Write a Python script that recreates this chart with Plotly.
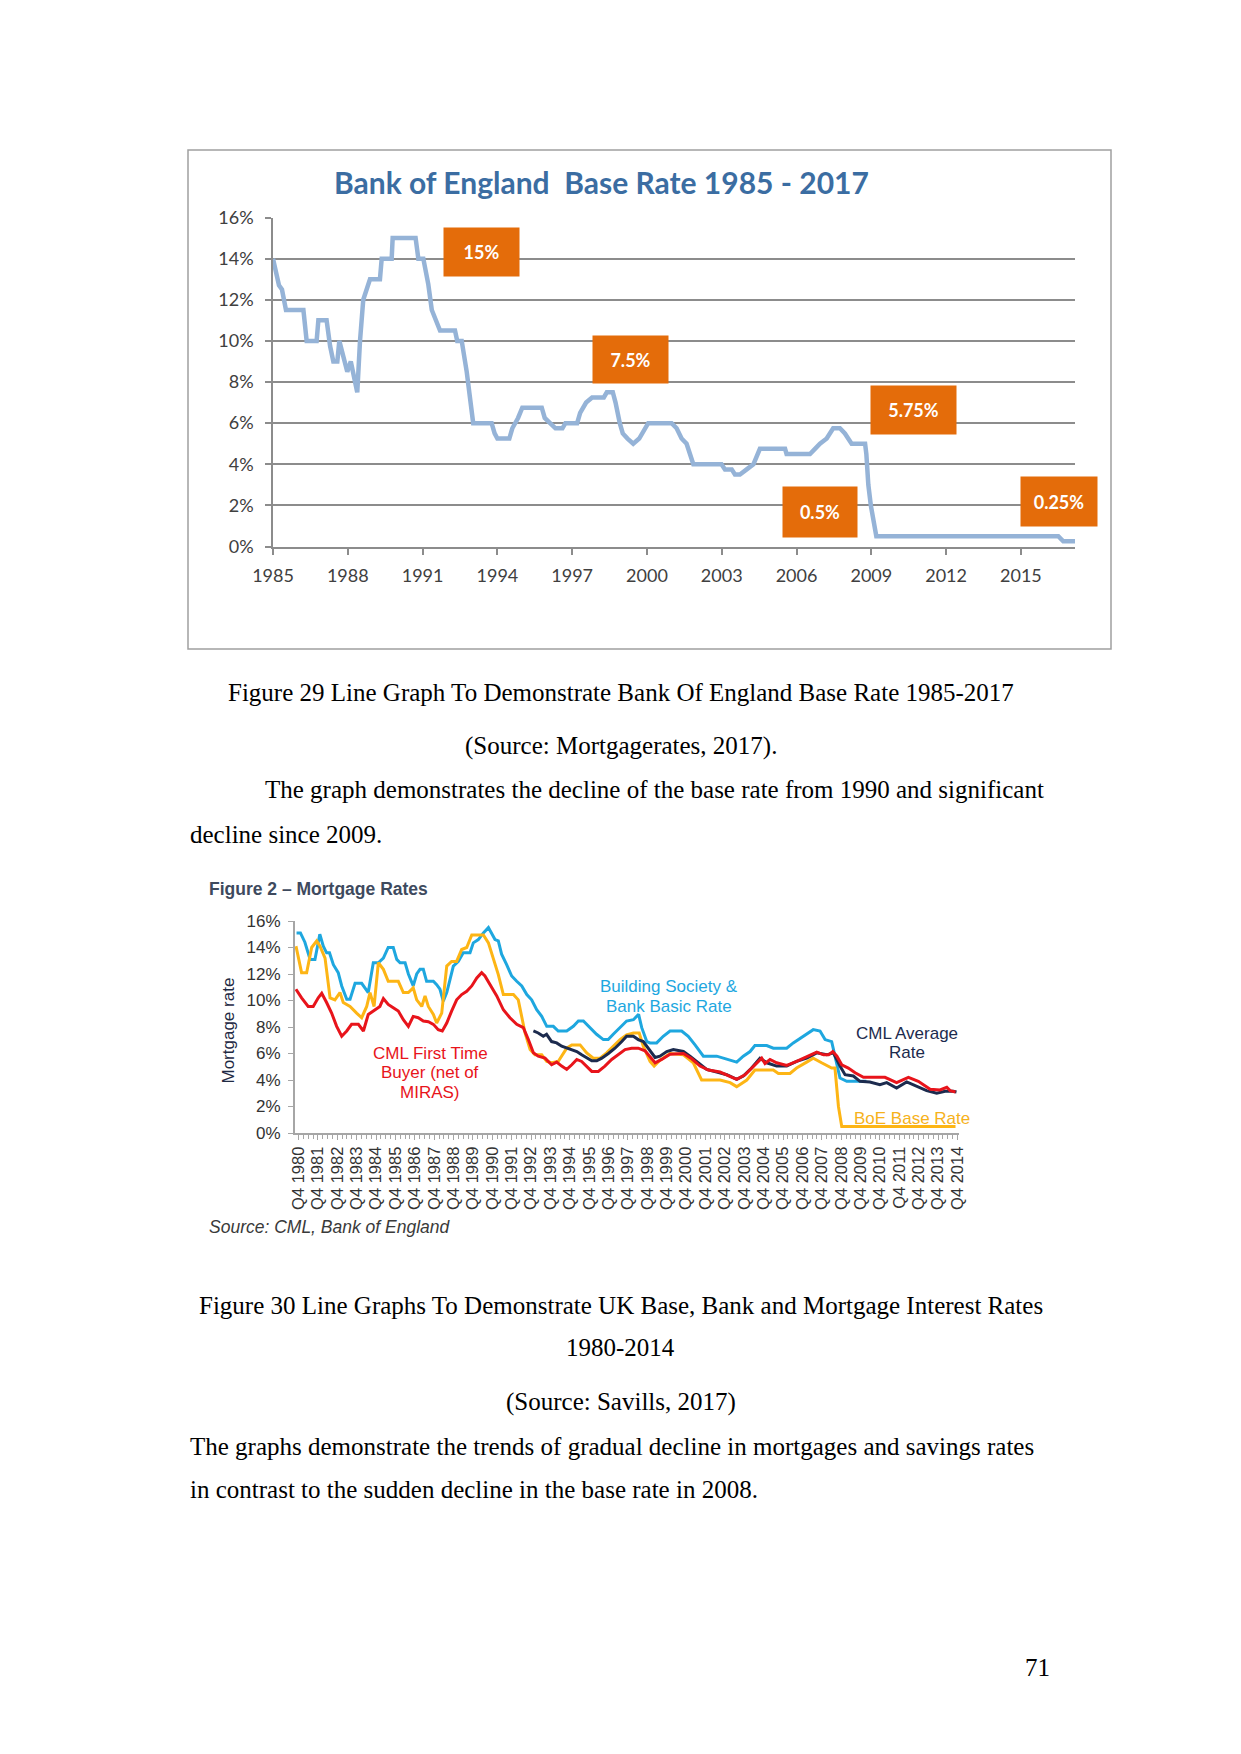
import plotly.graph_objects as go

W, H = 1241, 1754

# ---------------- Chart 1: Bank of England base rate 1985-2017 ----------------
boe_years = [1985.00, 1985.24, 1985.36, 1985.52, 1986.22, 1986.35, 1986.75, 1986.82, 1987.15,
             1987.29, 1987.42, 1987.58, 1987.66, 1987.89, 1987.98, 1988.12, 1988.22, 1988.38,
             1988.49, 1988.62, 1988.89, 1989.29, 1989.36, 1989.76, 1989.80, 1990.72, 1990.83,
             1991.03, 1991.23, 1991.37, 1991.70, 1992.30, 1992.39, 1992.57, 1992.77, 1992.90,
             1993.03, 1993.77, 1993.89, 1994.00, 1994.48, 1994.60, 1994.83, 1995.00, 1995.78,
             1995.90, 1996.14, 1996.33, 1996.61, 1996.73, 1997.20, 1997.32, 1997.56, 1997.80,
             1998.27, 1998.39, 1998.63, 1998.74, 1998.91, 1999.03, 1999.22, 1999.45, 1999.69,
             1999.93, 2000.05, 2000.99, 2001.19, 2001.39, 2001.59, 2001.86, 2002.99, 2003.13,
             2003.40, 2003.53, 2003.73, 2004.00, 2004.27, 2004.53, 2005.54, 2005.60, 2006.54,
             2006.74, 2006.94, 2007.21, 2007.47, 2007.74, 2007.94, 2008.21, 2008.75, 2008.80,
             2008.88, 2008.98, 2009.10, 2009.20, 2016.50, 2016.70, 2017.17]
boe_rates = [14.0, 12.7, 12.5, 11.5, 11.5, 10.0, 10.0, 11.0, 11.0,
             9.75, 9.0, 9.0, 10.0, 9.0, 8.5, 9.0, 8.5, 7.5,
             10.0, 12.0, 13.0, 13.0, 14.0, 14.0, 15.0, 15.0, 14.0,
             14.0, 12.75, 11.5, 10.5, 10.5, 10.0, 10.0, 8.5, 7.0,
             6.0, 6.0, 5.5, 5.25, 5.25, 5.75, 6.25, 6.75, 6.75,
             6.25, 6.0, 5.75, 5.75, 6.0, 6.0, 6.5, 7.0, 7.25,
             7.25, 7.5, 7.5, 7.0, 6.0, 5.5, 5.25, 5.0, 5.25,
             5.75, 6.0, 6.0, 5.75, 5.25, 5.0, 4.0, 4.0, 3.75,
             3.75, 3.5, 3.5, 3.75, 4.0, 4.75, 4.75, 4.5, 4.5,
             4.75, 5.0, 5.25, 5.75, 5.75, 5.5, 5.0, 5.0, 4.5,
             3.0, 2.0, 1.0, 0.5, 0.5, 0.25, 0.25]
boe_tick_years = [1985, 1988, 1991, 1994, 1997, 2000, 2003, 2006, 2009, 2012, 2015]
boe_callouts = ["15%", "7.5%", "5.75%", "0.5%", "0.25%"]
boe_title = "Bank of England  Base Rate 1985 - 2017"

# ---------------- Chart 2: Mortgage rates Q4 1980 - Q4 2014 ----------------
bs_years = [1979.90, 1980.10, 1980.33, 1980.60, 1980.85, 1981.10, 1981.28, 1981.45, 1981.60, 1981.80,
            1982.05, 1982.23, 1982.49, 1982.66, 1982.92, 1983.26, 1983.60, 1983.86, 1984.12, 1984.38,
            1984.63, 1984.89, 1985.07, 1985.24, 1985.50, 1985.67, 1985.92, 1986.10, 1986.27, 1986.44,
            1986.61, 1986.96, 1987.13, 1987.30, 1987.47, 1987.65, 1987.82, 1987.99, 1988.25, 1988.50,
            1988.85, 1989.02, 1989.28, 1989.54, 1989.80, 1989.97, 1990.14, 1990.31, 1990.48, 1990.74,
            1991.00, 1991.26, 1991.52, 1991.78, 1992.03, 1992.29, 1992.55, 1992.81, 1993.15, 1993.40,
            1993.84, 1994.18, 1994.44, 1994.70, 1995.04, 1995.38, 1995.73, 1995.98, 1996.24, 1996.59,
            1996.93, 1997.28, 1997.55, 1997.71, 1997.97, 1998.14, 1998.48, 1998.82, 1999.17, 1999.77,
            2000.11, 2000.46, 2000.89, 2001.58, 2002.10, 2002.61, 2002.95, 2003.30, 2003.55, 2004.16,
            2004.50, 2005.19, 2005.53, 2006.05, 2006.56, 2006.91, 2007.17, 2007.51, 2007.68, 2007.94,
            2008.29, 2008.80, 2009.30]
bs_rates = [15.1, 15.1, 14.4, 13.1, 13.1, 15.0, 14.1, 13.6, 13.6, 12.7,
            12.1, 11.1, 10.1, 10.1, 11.3, 11.3, 10.6, 12.85, 12.85, 13.2,
            14.0, 14.0, 13.1, 12.85, 12.85, 12.0, 11.1, 12.0, 12.35, 12.35,
            11.45, 11.45, 11.2, 10.85, 9.95, 10.6, 11.6, 12.6, 12.95, 13.6,
            13.6, 14.35, 14.6, 15.1, 15.5, 15.1, 14.6, 14.5, 13.5, 12.7,
            11.85, 11.45, 11.1, 10.45, 10.05, 9.3, 8.8, 8.05, 8.05, 7.7,
            7.7, 8.05, 8.45, 8.45, 7.95, 7.45, 7.05, 7.05, 7.45, 7.95,
            8.45, 8.55, 8.95, 7.95, 6.9, 6.8, 6.8, 7.3, 7.7, 7.7,
            7.3, 6.65, 5.8, 5.8, 5.6, 5.35, 5.8, 6.15, 6.6, 6.6,
            6.4, 6.4, 6.8, 7.3, 7.8, 7.7, 7.05, 6.9, 5.8, 4.15,
            3.9, 3.9, 3.9]

avg_years = [1992.12, 1992.37, 1992.63, 1992.80, 1993.06, 1993.32, 1993.58, 1993.84, 1994.10, 1994.36,
             1994.61, 1994.87, 1995.13, 1995.39, 1995.65, 1995.99, 1996.33, 1996.68, 1996.93, 1997.28,
             1997.53, 1997.79, 1998.05, 1998.40, 1998.65, 1999.00, 1999.34, 1999.86, 2000.20, 2000.63,
             2001.06, 2001.58, 2002.10, 2002.61, 2002.95, 2003.38, 2003.81, 2004.16, 2004.67, 2005.19,
             2005.70, 2006.22, 2006.74, 2007.26, 2007.60, 2007.94, 2008.20, 2008.63, 2008.97, 2009.48,
             2010.00, 2010.35, 2010.86, 2011.38, 2011.90, 2012.41, 2012.93, 2013.36, 2013.79, 2013.95]
avg_rates = [7.7, 7.55, 7.3, 7.45, 6.9, 6.8, 6.55, 6.4, 6.3, 6.15,
             5.9, 5.65, 5.45, 5.45, 5.65, 6.0, 6.4, 6.9, 7.3, 7.3,
             7.05, 6.9, 6.4, 5.7, 5.8, 6.15, 6.3, 6.15, 5.8, 5.3,
             4.8, 4.6, 4.4, 4.05, 4.3, 4.9, 5.65, 5.3, 5.05, 5.05,
             5.4, 5.65, 6.05, 5.9, 6.05, 5.05, 4.4, 4.3, 3.9, 3.85,
             3.65, 3.8, 3.4, 3.85, 3.5, 3.2, 3.0, 3.15, 3.15, 3.1]

ftb_years = [1979.87, 1980.16, 1980.50, 1980.76, 1981.02, 1981.20, 1981.45, 1981.71, 1981.97, 1982.23,
             1982.49, 1982.74, 1983.09, 1983.35, 1983.60, 1983.95, 1984.20, 1984.38, 1984.63, 1984.89,
             1985.15, 1985.41, 1985.67, 1985.92, 1986.18, 1986.44, 1986.70, 1986.96, 1987.21, 1987.42,
             1987.65, 1987.90, 1988.16, 1988.42, 1988.68, 1988.94, 1989.20, 1989.45, 1989.62, 1989.88,
             1990.23, 1990.57, 1990.91, 1991.26, 1991.60, 1991.86, 1992.12, 1992.37, 1992.72, 1993.06,
             1993.32, 1993.58, 1993.84, 1994.10, 1994.36, 1994.61, 1994.87, 1995.13, 1995.47, 1995.81,
             1996.16, 1996.50, 1996.85, 1997.19, 1997.53, 1997.88, 1998.14, 1998.40, 1998.74, 1999.17,
             1999.86, 2000.29, 2000.72, 2001.15, 2001.75, 2002.18, 2002.61, 2003.04, 2003.47, 2003.90,
             2004.07, 2004.33, 2004.67, 2005.19, 2005.70, 2006.22, 2006.74, 2007.09, 2007.35, 2007.57,
             2007.78, 2008.03, 2008.37, 2008.72, 2009.15, 2009.67, 2010.26, 2010.86, 2011.47, 2011.98,
             2012.59, 2013.10, 2013.45, 2013.62, 2013.90]
ftb_rates = [10.85, 10.2, 9.55, 9.55, 10.2, 10.55, 9.85, 9.05, 8.05, 7.3,
             7.7, 8.2, 8.2, 7.7, 8.95, 9.3, 9.55, 10.15, 9.7, 9.45,
             9.2, 8.55, 8.05, 8.8, 8.7, 8.45, 8.4, 8.2, 7.8, 7.7,
             8.3, 9.2, 10.05, 10.45, 10.7, 11.1, 11.7, 12.1, 11.85, 11.2,
             10.35, 9.3, 8.7, 8.2, 7.95, 7.05, 6.05, 5.8, 5.65, 5.15,
             5.35, 5.05, 4.8, 5.15, 5.55, 5.4, 5.05, 4.65, 4.65, 5.05,
             5.55, 5.9, 6.3, 6.4, 6.4, 6.2, 5.75, 5.3, 5.55, 5.95,
             6.0, 5.6, 5.05, 4.75, 4.6, 4.35, 4.05, 4.4, 5.05, 5.65,
             5.25, 5.55, 5.3, 5.1, 5.4, 5.75, 6.1, 5.9, 5.9, 6.15,
             5.8, 5.15, 4.9, 4.55, 4.2, 4.2, 4.2, 3.8, 4.2, 3.9,
             3.3, 3.25, 3.45, 3.2, 3.1]

base_years = [1979.87, 1980.16, 1980.42, 1980.68, 1980.94, 1981.11, 1981.37, 1981.63, 1981.88, 1982.14,
              1982.31, 1982.66, 1983.00, 1983.26, 1983.52, 1983.69, 1983.90, 1984.12, 1984.38, 1984.63,
              1985.15, 1985.41, 1985.67, 1985.92, 1986.10, 1986.36, 1986.53, 1986.70, 1986.96, 1987.13,
              1987.39, 1987.65, 1987.90, 1988.16, 1988.42, 1988.68, 1988.94, 1989.54, 1989.80, 1990.05,
              1990.31, 1990.57, 1991.09, 1991.34, 1991.69, 1991.95, 1992.20, 1992.55, 1992.81, 1993.06,
              1993.40, 1993.84, 1994.10, 1994.53, 1994.87, 1995.21, 1995.56, 1995.90, 1996.24, 1996.59,
              1996.93, 1997.28, 1997.58, 1997.79, 1998.14, 1998.35, 1998.65, 1999.17, 1999.86, 2000.37,
              2000.80, 2001.75, 2002.27, 2002.61, 2003.13, 2003.55, 2004.50, 2004.76, 2005.36, 2005.70,
              2006.22, 2006.56, 2006.99, 2007.51, 2007.68, 2007.86, 2008.03, 2013.90]
base_rates = [14.1, 12.1, 12.1, 14.0, 14.5, 14.1, 13.2, 10.2, 10.05, 10.6,
              9.85, 9.55, 9.05, 8.7, 9.55, 10.6, 9.55, 12.85, 12.35, 11.45,
              11.45, 10.6, 10.6, 10.95, 10.05, 9.55, 10.35, 9.55, 8.95, 8.3,
              9.05, 12.6, 12.95, 12.95, 13.85, 14.0, 14.95, 14.95, 14.35, 13.2,
              11.95, 10.45, 10.45, 10.05, 7.55, 6.3, 5.9, 5.9, 5.4, 5.3,
              5.4, 6.4, 6.65, 6.65, 6.05, 5.65, 5.65, 6.05, 6.55, 7.05,
              7.4, 7.55, 7.55, 6.55, 5.4, 5.05, 5.5, 6.0, 5.9, 5.3,
              4.0, 4.0, 3.8, 3.5, 4.0, 4.75, 4.75, 4.5, 4.5, 4.9,
              5.35, 5.65, 5.3, 4.9, 4.9, 2.0, 0.5, 0.5]

mort_tick_years = [1980, 1981, 1982, 1983, 1984, 1985, 1986, 1987, 1988, 1989, 1990, 1991,
                   1992, 1993, 1994, 1995, 1996, 1997, 1998, 1999, 2000, 2001, 2002, 2003,
                   2004, 2005, 2006, 2007, 2008, 2009, 2010, 2011, 2012, 2013, 2014]
mort_tick_labels = ["Q4 1980", "Q4 1981", "Q4 1982", "Q4 1983", "Q4 1984", "Q4 1985", "Q4 1986",
                    "Q4 1987", "Q4 1988", "Q4 1989", "Q4 1990", "Q4 1991", "Q4 1992", "Q4 1993",
                    "Q4 1994", "Q4 1995", "Q4 1996", "Q4 1997", "Q4 1998", "Q4 1999", "Q4 2000",
                    "Q4 2001", "Q4 2002", "Q4 2003", "Q4 2004", "Q4 2005", "Q4 2006", "Q4 2007",
                    "Q4 2008", "Q4 2009", "Q4 2010", "Q4 2011", "Q4 2012", "Q4 2013", "Q4 2014"]
bs_label = ["Building Society &", "Bank Basic Rate"]
avg_label = ["CML Average", "Rate"]
ftb_label = ["CML First Time", "Buyer (net of", "MIRAS)"]
base_label = ["BoE Base Rate"]

# ---------------- page text ----------------
caption29 = "Figure 29 Line Graph To Demonstrate Bank Of England Base Rate 1985-2017"
source29 = "(Source: Mortgagerates, 2017)."
para1 = ["The graph demonstrates the decline of the base rate from 1990 and significant",
         "decline since 2009."]
caption30 = ["Figure 30 Line Graphs To Demonstrate UK Base, Bank and Mortgage Interest Rates",
             "1980-2014"]
source30 = "(Source: Savills, 2017)"
para2 = ["The graphs demonstrate the trends of gradual decline in mortgages and savings rates",
         "in contrast to the sudden decline in the base rate in 2008."]
page_number = "71"


def px(x):
    return x / W


def py(y):
    return 1 - y / H


C_BS = "#1EA7DF"
C_BASE = "#FDB515"
C_AVG = "#1C2B4E"
C_FTB = "#E8141B"
ORANGE = "#E46C0A"
GRID = "#8C8C8C"

fig = go.Figure()

fig.add_trace(go.Scatter(x=boe_years, y=boe_rates, mode="lines", xaxis="x", yaxis="y",
                         line=dict(color="#95B3D7", width=4.5), showlegend=False))

fig.add_trace(go.Scatter(x=bs_years, y=bs_rates, mode="lines", xaxis="x2", yaxis="y2",
                         line=dict(color=C_BS, width=3), showlegend=False))
fig.add_trace(go.Scatter(x=base_years, y=base_rates, mode="lines", xaxis="x2", yaxis="y2",
                         line=dict(color=C_BASE, width=3), showlegend=False))
fig.add_trace(go.Scatter(x=avg_years, y=avg_rates, mode="lines", xaxis="x2", yaxis="y2",
                         line=dict(color=C_AVG, width=3), showlegend=False))
fig.add_trace(go.Scatter(x=ftb_years, y=ftb_rates, mode="lines", xaxis="x2", yaxis="y2",
                         line=dict(color=C_FTB, width=3), showlegend=False))

f1 = dict(family="Lato, 'Open Sans', sans-serif", size=18, color="#404040")
f2 = dict(family="'Liberation Sans', Arial, sans-serif", size=17, color="#333333")

fig.update_layout(
    width=W, height=H, margin=dict(l=0, r=0, t=0, b=0, pad=0, autoexpand=False),
    paper_bgcolor="white", plot_bgcolor="rgba(0,0,0,0)",
    xaxis=dict(domain=[px(273), px(1075)], range=[1985, 2017.17], tickvals=boe_tick_years,
               showgrid=False, zeroline=False, showline=True, linecolor=GRID, linewidth=1.5,
               ticks="outside", ticklen=7, tickcolor=GRID, tickwidth=1.5, tickfont=f1,
               ticklabelstandoff=5, automargin=False, fixedrange=True),
    yaxis=dict(domain=[py(546.5), py(217.5)], range=[0, 16], dtick=2, ticksuffix="%",
               showgrid=True, gridcolor=GRID, gridwidth=1.5, zeroline=False,
               showline=True, linecolor=GRID, linewidth=1.5, ticks="outside", ticklen=6,
               tickcolor=GRID, tickwidth=1.5, tickfont=f1, ticklabelstandoff=8,
               automargin=False, fixedrange=True),
    xaxis2=dict(domain=[px(295), px(959)], range=[1979.82, 2014.08], anchor="y2",
                tickvals=mort_tick_years, ticktext=mort_tick_labels, tickangle=-90,
                showgrid=False, zeroline=False, showline=True, linecolor="#A6A6A6", linewidth=2,
                ticks="outside", ticklen=5, tickcolor="#A6A6A6", tickwidth=1,
                minor=dict(ticks="outside", ticklen=4, dtick=0.25, tick0=1980, tickcolor="#A6A6A6"),
                tickfont=dict(family="'Liberation Sans', Arial, sans-serif", size=16.5, color="#333333"),
                automargin=False, fixedrange=True),
    yaxis2=dict(domain=[py(1133), py(921)], range=[0, 16], dtick=2, ticksuffix="%", anchor="x2",
                showgrid=False, zeroline=False, showline=True, linecolor="#A6A6A6", linewidth=2,
                ticks="outside", ticklen=5, tickcolor="#A6A6A6", tickfont=f2,
                ticklabelstandoff=4, automargin=False, fixedrange=True),
)

shapes = [dict(type="rect", xref="paper", yref="paper", x0=px(188), x1=px(1111), y0=py(649), y1=py(150),
               line=dict(color="#A0A0A0", width=1.5), fillcolor="rgba(0,0,0,0)", layer="below")]
fig.update_layout(shapes=shapes)

ann = []
# Chart 1 title
ann.append(dict(text="<b>" + boe_title + "</b>", x=px(601), y=py(182), xref="paper", yref="paper",
                showarrow=False, xanchor="center", yanchor="middle",
                font=dict(family="Lato, 'Open Sans', sans-serif", size=30, color="#3B6DA2")))
# Chart 1 orange call-out boxes
box_geo = [(481, 252, 75, 48), (630.5, 359.5, 75, 47), (913.5, 410, 85, 48), (820, 512, 74, 50), (1059, 501.5, 76, 49)]
for label, (cx, cy, bw, bh) in zip(boe_callouts, box_geo):
    ann.append(dict(text="<b>" + label + "</b>", x=px(cx), y=py(cy), xref="paper", yref="paper",
                    showarrow=False, xanchor="center", yanchor="middle", width=bw, height=bh,
                    bgcolor=ORANGE, borderpad=0, valign="middle",
                    font=dict(family="Lato, 'Open Sans', sans-serif", size=18, color="white")))

# Chart 2 text
ann.append(dict(text="<b>Figure 2 \u2013 Mortgage Rates</b>", x=px(207), y=py(889), xref="paper", yref="paper",
                showarrow=False, xanchor="left", yanchor="middle",
                font=dict(family="'Liberation Sans', Arial, sans-serif", size=17.5, color="#3E4A5E")))
ann.append(dict(text="Mortgage rate", x=px(227.5), y=py(1031), xref="paper", yref="paper",
                showarrow=False, xanchor="center", yanchor="middle", textangle=-90,
                font=dict(family="'Liberation Sans', Arial, sans-serif", size=17, color="#1F2A44")))
ann.append(dict(text="<i>Source: CML, Bank of England</i>", x=px(207), y=py(1227), xref="paper", yref="paper",
                showarrow=False, xanchor="left", yanchor="middle",
                font=dict(family="'Liberation Sans', Arial, sans-serif", size=17.5, color="#3A3A3A")))


def label_lines(lines, cx, y0, color, step=20):
    for i, t in enumerate(lines):
        ann.append(dict(text=t, x=px(cx), y=py(y0 + i * step), xref="paper", yref="paper",
                        showarrow=False, xanchor="center", yanchor="middle",
                        font=dict(family="'Liberation Sans', Arial, sans-serif", size=17, color=color)))


label_lines(bs_label, 669, 987, C_BS)
label_lines(avg_label, 907, 1033, C_AVG, 19)
label_lines(ftb_label, 430, 1053, C_FTB, 19.5)
label_lines(base_label, 912, 1118, "#F6B21B")

# page text
serif = dict(family="'Liberation Serif', 'Times New Roman', serif", size=25, color="black")


def page_text(t, x, y, anchor):
    ann.append(dict(text=t, x=px(x), y=py(y), xref="paper", yref="paper", showarrow=False,
                    xanchor=anchor, yanchor="middle", font=serif))


page_text(caption29, 620.5, 693, "center")
page_text(source29, 620.5, 746, "center")
page_text(para1[0], 263, 790, "left")
page_text(para1[1], 188, 834, "left")
page_text(caption30[0], 620.5, 1305, "center")
page_text(caption30[1], 620.5, 1347, "center")
page_text(source30, 620.5, 1402, "center")
page_text(para2[0], 188, 1446, "left")
page_text(para2[1], 188, 1489, "left")
page_text(page_number, 1052, 1667, "right")

fig.update_layout(annotations=ann)

fig.write_html("out.html", config={"displayModeBar": False},
               post_script="document.body.style.margin='0';document.body.style.overflow='hidden';")
